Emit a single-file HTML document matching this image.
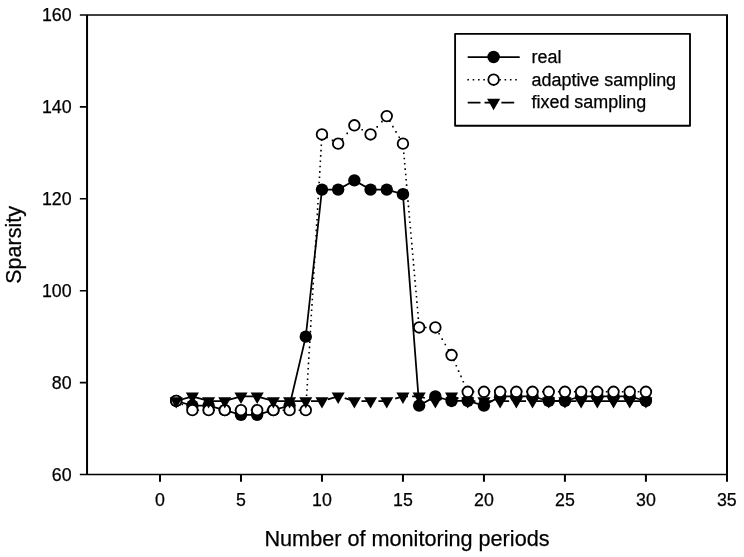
<!DOCTYPE html>
<html><head><meta charset="utf-8"><title>Sparsity</title>
<style>html,body{margin:0;padding:0;background:#fff}svg{display:block}text{font-family:"Liberation Sans",Arial,sans-serif;fill:#000;stroke:#000;stroke-width:0.25px}</style></head><body>
<svg width="744" height="557" viewBox="0 0 744 557">
<rect width="744" height="557" fill="#fff"/>
<g stroke="#000" stroke-width="1.75" fill="none">
<polyline points="176.20,400.98 192.39,405.57 208.59,405.57 224.79,410.17 240.99,414.76 257.18,414.76 273.38,410.17 289.58,405.57 305.77,336.65 321.97,189.61 338.17,189.61 354.36,180.42 370.56,189.61 386.76,189.61 402.95,194.21 419.15,405.57 435.35,396.38 451.55,400.98 467.74,400.98 483.94,405.57 500.14,396.38 516.33,396.38 532.53,396.38 548.73,400.98 564.92,400.98 581.12,396.38 597.32,396.38 613.52,396.38 629.71,396.38 645.91,400.98"/>
</g>
<g fill="#000">
<circle cx="176.20" cy="400.98" r="6.2"/>
<circle cx="192.39" cy="405.57" r="6.2"/>
<circle cx="208.59" cy="405.57" r="6.2"/>
<circle cx="224.79" cy="410.17" r="6.2"/>
<circle cx="240.99" cy="414.76" r="6.2"/>
<circle cx="257.18" cy="414.76" r="6.2"/>
<circle cx="273.38" cy="410.17" r="6.2"/>
<circle cx="289.58" cy="405.57" r="6.2"/>
<circle cx="305.77" cy="336.65" r="6.2"/>
<circle cx="321.97" cy="189.61" r="6.2"/>
<circle cx="338.17" cy="189.61" r="6.2"/>
<circle cx="354.36" cy="180.42" r="6.2"/>
<circle cx="370.56" cy="189.61" r="6.2"/>
<circle cx="386.76" cy="189.61" r="6.2"/>
<circle cx="402.95" cy="194.21" r="6.2"/>
<circle cx="419.15" cy="405.57" r="6.2"/>
<circle cx="435.35" cy="396.38" r="6.2"/>
<circle cx="451.55" cy="400.98" r="6.2"/>
<circle cx="467.74" cy="400.98" r="6.2"/>
<circle cx="483.94" cy="405.57" r="6.2"/>
<circle cx="500.14" cy="396.38" r="6.2"/>
<circle cx="516.33" cy="396.38" r="6.2"/>
<circle cx="532.53" cy="396.38" r="6.2"/>
<circle cx="548.73" cy="400.98" r="6.2"/>
<circle cx="564.92" cy="400.98" r="6.2"/>
<circle cx="581.12" cy="396.38" r="6.2"/>
<circle cx="597.32" cy="396.38" r="6.2"/>
<circle cx="613.52" cy="396.38" r="6.2"/>
<circle cx="629.71" cy="396.38" r="6.2"/>
<circle cx="645.91" cy="400.98" r="6.2"/>
</g>
<path d="M176.2,400.6h1.6v1.6h-1.6zM181.5,403.7h1.6v1.6h-1.6zM186.8,406.7h1.6v1.6h-1.6zM192.2,409.4h1.6v1.6h-1.6zM197.5,409.4h1.6v1.6h-1.6zM202.8,409.4h1.6v1.6h-1.6zM208.1,409.4h1.6v1.6h-1.6zM213.4,409.4h1.6v1.6h-1.6zM218.8,409.4h1.6v1.6h-1.6zM224.1,409.4h1.6v1.6h-1.6zM229.4,409.4h1.6v1.6h-1.6zM234.7,409.4h1.6v1.6h-1.6zM240.0,409.4h1.6v1.6h-1.6zM245.4,409.4h1.6v1.6h-1.6zM250.7,409.4h1.6v1.6h-1.6zM256.0,409.4h1.6v1.6h-1.6zM261.3,409.4h1.6v1.6h-1.6zM266.6,409.4h1.6v1.6h-1.6zM272.0,409.4h1.6v1.6h-1.6zM277.3,409.4h1.6v1.6h-1.6zM282.6,409.4h1.6v1.6h-1.6zM287.9,409.4h1.6v1.6h-1.6zM293.2,409.4h1.6v1.6h-1.6zM298.6,409.4h1.6v1.6h-1.6zM303.9,409.4h1.6v1.6h-1.6zM305.2,405.1h1.6v1.6h-1.6zM305.5,399.8h1.6v1.6h-1.6zM305.8,394.5h1.6v1.6h-1.6zM306.2,389.2h1.6v1.6h-1.6zM306.5,383.9h1.6v1.6h-1.6zM306.8,378.5h1.6v1.6h-1.6zM307.1,373.2h1.6v1.6h-1.6zM307.4,367.9h1.6v1.6h-1.6zM307.7,362.6h1.6v1.6h-1.6zM308.0,357.3h1.6v1.6h-1.6zM308.3,351.9h1.6v1.6h-1.6zM308.7,346.6h1.6v1.6h-1.6zM309.0,341.3h1.6v1.6h-1.6zM309.3,336.0h1.6v1.6h-1.6zM309.6,330.7h1.6v1.6h-1.6zM309.9,325.3h1.6v1.6h-1.6zM310.2,320.0h1.6v1.6h-1.6zM310.5,314.7h1.6v1.6h-1.6zM310.8,309.4h1.6v1.6h-1.6zM311.2,304.1h1.6v1.6h-1.6zM311.5,298.7h1.6v1.6h-1.6zM311.8,293.4h1.6v1.6h-1.6zM312.1,288.1h1.6v1.6h-1.6zM312.4,282.8h1.6v1.6h-1.6zM312.7,277.5h1.6v1.6h-1.6zM313.0,272.1h1.6v1.6h-1.6zM313.3,266.8h1.6v1.6h-1.6zM313.7,261.5h1.6v1.6h-1.6zM314.0,256.2h1.6v1.6h-1.6zM314.3,250.9h1.6v1.6h-1.6zM314.6,245.5h1.6v1.6h-1.6zM314.9,240.2h1.6v1.6h-1.6zM315.2,234.9h1.6v1.6h-1.6zM315.5,229.6h1.6v1.6h-1.6zM315.8,224.3h1.6v1.6h-1.6zM316.2,218.9h1.6v1.6h-1.6zM316.5,213.6h1.6v1.6h-1.6zM316.8,208.3h1.6v1.6h-1.6zM317.1,203.0h1.6v1.6h-1.6zM317.4,197.7h1.6v1.6h-1.6zM317.7,192.3h1.6v1.6h-1.6zM318.0,187.0h1.6v1.6h-1.6zM318.3,181.7h1.6v1.6h-1.6zM318.7,176.4h1.6v1.6h-1.6zM319.0,171.1h1.6v1.6h-1.6zM319.3,165.7h1.6v1.6h-1.6zM319.6,160.4h1.6v1.6h-1.6zM319.9,155.1h1.6v1.6h-1.6zM320.2,149.8h1.6v1.6h-1.6zM320.5,144.5h1.6v1.6h-1.6zM320.8,139.1h1.6v1.6h-1.6zM321.2,133.8h1.6v1.6h-1.6zM326.3,136.6h1.6v1.6h-1.6zM331.7,139.6h1.6v1.6h-1.6zM337.0,142.6h1.6v1.6h-1.6zM341.7,137.9h1.6v1.6h-1.6zM346.4,132.6h1.6v1.6h-1.6zM351.1,127.3h1.6v1.6h-1.6zM356.1,125.9h1.6v1.6h-1.6zM361.4,128.9h1.6v1.6h-1.6zM366.7,131.9h1.6v1.6h-1.6zM371.8,131.4h1.6v1.6h-1.6zM376.4,126.1h1.6v1.6h-1.6zM381.1,120.8h1.6v1.6h-1.6zM385.8,115.4h1.6v1.6h-1.6zM389.0,120.5h1.6v1.6h-1.6zM392.1,125.8h1.6v1.6h-1.6zM395.2,131.1h1.6v1.6h-1.6zM398.4,136.4h1.6v1.6h-1.6zM401.5,141.7h1.6v1.6h-1.6zM402.5,147.1h1.6v1.6h-1.6zM403.0,152.4h1.6v1.6h-1.6zM403.5,157.7h1.6v1.6h-1.6zM403.9,163.0h1.6v1.6h-1.6zM404.4,168.3h1.6v1.6h-1.6zM404.9,173.7h1.6v1.6h-1.6zM405.3,179.0h1.6v1.6h-1.6zM405.8,184.3h1.6v1.6h-1.6zM406.3,189.6h1.6v1.6h-1.6zM406.7,194.9h1.6v1.6h-1.6zM407.2,200.3h1.6v1.6h-1.6zM407.7,205.6h1.6v1.6h-1.6zM408.2,210.9h1.6v1.6h-1.6zM408.6,216.2h1.6v1.6h-1.6zM409.1,221.5h1.6v1.6h-1.6zM409.6,226.9h1.6v1.6h-1.6zM410.0,232.2h1.6v1.6h-1.6zM410.5,237.5h1.6v1.6h-1.6zM411.0,242.8h1.6v1.6h-1.6zM411.4,248.1h1.6v1.6h-1.6zM411.9,253.5h1.6v1.6h-1.6zM412.4,258.8h1.6v1.6h-1.6zM412.8,264.1h1.6v1.6h-1.6zM413.3,269.4h1.6v1.6h-1.6zM413.8,274.7h1.6v1.6h-1.6zM414.2,280.1h1.6v1.6h-1.6zM414.7,285.4h1.6v1.6h-1.6zM415.2,290.7h1.6v1.6h-1.6zM415.7,296.0h1.6v1.6h-1.6zM416.1,301.3h1.6v1.6h-1.6zM416.6,306.7h1.6v1.6h-1.6zM417.1,312.0h1.6v1.6h-1.6zM417.5,317.3h1.6v1.6h-1.6zM418.0,322.6h1.6v1.6h-1.6zM419.6,326.7h1.6v1.6h-1.6zM425.0,326.7h1.6v1.6h-1.6zM430.3,326.7h1.6v1.6h-1.6zM435.2,327.7h1.6v1.6h-1.6zM438.3,333.0h1.6v1.6h-1.6zM441.4,338.3h1.6v1.6h-1.6zM444.5,343.7h1.6v1.6h-1.6zM447.7,349.0h1.6v1.6h-1.6zM450.8,354.3h1.6v1.6h-1.6zM453.1,359.6h1.6v1.6h-1.6zM455.5,364.9h1.6v1.6h-1.6zM457.8,370.3h1.6v1.6h-1.6zM460.2,375.6h1.6v1.6h-1.6zM462.5,380.9h1.6v1.6h-1.6zM464.8,386.2h1.6v1.6h-1.6zM467.5,391.0h1.6v1.6h-1.6zM472.8,391.0h1.6v1.6h-1.6zM478.1,391.0h1.6v1.6h-1.6zM483.5,391.0h1.6v1.6h-1.6zM488.8,391.0h1.6v1.6h-1.6zM494.1,391.0h1.6v1.6h-1.6zM499.4,391.0h1.6v1.6h-1.6zM504.7,391.0h1.6v1.6h-1.6zM510.1,391.0h1.6v1.6h-1.6zM515.4,391.0h1.6v1.6h-1.6zM520.7,391.0h1.6v1.6h-1.6zM526.0,391.0h1.6v1.6h-1.6zM531.3,391.0h1.6v1.6h-1.6zM536.7,391.0h1.6v1.6h-1.6zM542.0,391.0h1.6v1.6h-1.6zM547.3,391.0h1.6v1.6h-1.6zM552.6,391.0h1.6v1.6h-1.6zM557.9,391.0h1.6v1.6h-1.6zM563.3,391.0h1.6v1.6h-1.6zM568.6,391.0h1.6v1.6h-1.6zM573.9,391.0h1.6v1.6h-1.6zM579.2,391.0h1.6v1.6h-1.6zM584.5,391.0h1.6v1.6h-1.6zM589.9,391.0h1.6v1.6h-1.6zM595.2,391.0h1.6v1.6h-1.6zM600.5,391.0h1.6v1.6h-1.6zM605.8,391.0h1.6v1.6h-1.6zM611.1,391.0h1.6v1.6h-1.6zM616.5,391.0h1.6v1.6h-1.6zM621.8,391.0h1.6v1.6h-1.6zM627.1,391.0h1.6v1.6h-1.6zM632.4,391.0h1.6v1.6h-1.6zM637.7,391.0h1.6v1.6h-1.6zM643.1,391.0h1.6v1.6h-1.6z" fill="#000"/>
<g fill="#fff" stroke="#000" stroke-width="1.8">
<circle cx="176.20" cy="400.98" r="5.3"/>
<circle cx="192.39" cy="410.17" r="5.3"/>
<circle cx="208.59" cy="410.17" r="5.3"/>
<circle cx="224.79" cy="410.17" r="5.3"/>
<circle cx="240.99" cy="410.17" r="5.3"/>
<circle cx="257.18" cy="410.17" r="5.3"/>
<circle cx="273.38" cy="410.17" r="5.3"/>
<circle cx="289.58" cy="410.17" r="5.3"/>
<circle cx="305.77" cy="410.17" r="5.3"/>
<circle cx="321.97" cy="134.47" r="5.3"/>
<circle cx="338.17" cy="143.66" r="5.3"/>
<circle cx="354.36" cy="125.28" r="5.3"/>
<circle cx="370.56" cy="134.47" r="5.3"/>
<circle cx="386.76" cy="116.09" r="5.3"/>
<circle cx="402.95" cy="143.66" r="5.3"/>
<circle cx="419.15" cy="327.46" r="5.3"/>
<circle cx="435.35" cy="327.46" r="5.3"/>
<circle cx="451.55" cy="355.03" r="5.3"/>
<circle cx="467.74" cy="391.79" r="5.3"/>
<circle cx="483.94" cy="391.79" r="5.3"/>
<circle cx="500.14" cy="391.79" r="5.3"/>
<circle cx="516.33" cy="391.79" r="5.3"/>
<circle cx="532.53" cy="391.79" r="5.3"/>
<circle cx="548.73" cy="391.79" r="5.3"/>
<circle cx="564.92" cy="391.79" r="5.3"/>
<circle cx="581.12" cy="391.79" r="5.3"/>
<circle cx="597.32" cy="391.79" r="5.3"/>
<circle cx="613.52" cy="391.79" r="5.3"/>
<circle cx="629.71" cy="391.79" r="5.3"/>
<circle cx="645.91" cy="391.79" r="5.3"/>
</g>
<path d="M176.2,401.0L189.0,397.3M193.0,396.6L205.8,400.2M209.9,401.0L222.7,401.0M226.7,400.4L239.5,396.8M243.6,396.4L256.4,396.4M260.4,397.3L273.2,400.9M277.3,401.0L289.6,401.0L290.1,401.0M294.1,401.0L305.8,401.0L306.9,401.0M311.0,401.0L322.0,401.0L323.8,400.5M327.8,399.3L338.2,396.4L340.6,397.1M344.7,398.2L354.4,401.0L357.5,401.0M361.5,401.0L370.6,401.0L374.3,401.0M378.4,401.0L386.8,401.0L391.2,399.7M395.2,398.6L403.0,396.4L408.0,396.4M412.1,396.4L419.2,396.4L424.9,398.0M428.9,399.2L435.3,401.0L441.7,399.2M445.8,398.0L451.5,396.4L458.6,398.4M462.6,399.5L467.7,401.0L475.4,401.0M479.5,401.0L483.9,401.0L492.3,401.0M496.3,401.0L500.1,401.0L509.1,401.0M513.2,401.0L516.3,401.0L526.0,401.0M530.0,401.0L532.5,401.0L542.8,401.0M546.9,401.0L548.7,401.0L559.7,401.0M563.7,401.0L564.9,401.0L576.5,401.0M580.6,401.0L581.1,401.0L593.4,401.0M597.4,401.0L610.2,401.0M614.3,401.0L627.1,401.0M631.1,401.0L643.9,401.0" fill="none" stroke="#000" stroke-width="1.75"/>
<g fill="#000">
<polygon points="169.65,397.21 182.75,397.21 176.20,408.51"/>
<polygon points="185.84,392.62 198.94,392.62 192.39,403.92"/>
<polygon points="202.04,397.21 215.14,397.21 208.59,408.51"/>
<polygon points="218.24,397.21 231.34,397.21 224.79,408.51"/>
<polygon points="234.44,392.62 247.54,392.62 240.99,403.92"/>
<polygon points="250.63,392.62 263.73,392.62 257.18,403.92"/>
<polygon points="266.83,397.21 279.93,397.21 273.38,408.51"/>
<polygon points="283.03,397.21 296.13,397.21 289.58,408.51"/>
<polygon points="299.22,397.21 312.32,397.21 305.77,408.51"/>
<polygon points="315.42,397.21 328.52,397.21 321.97,408.51"/>
<polygon points="331.62,392.62 344.72,392.62 338.17,403.92"/>
<polygon points="347.81,397.21 360.91,397.21 354.36,408.51"/>
<polygon points="364.01,397.21 377.11,397.21 370.56,408.51"/>
<polygon points="380.21,397.21 393.31,397.21 386.76,408.51"/>
<polygon points="396.40,392.62 409.50,392.62 402.95,403.92"/>
<polygon points="412.60,392.62 425.70,392.62 419.15,403.92"/>
<polygon points="428.80,397.21 441.90,397.21 435.35,408.51"/>
<polygon points="445.00,392.62 458.10,392.62 451.55,403.92"/>
<polygon points="461.19,397.21 474.29,397.21 467.74,408.51"/>
<polygon points="477.39,397.21 490.49,397.21 483.94,408.51"/>
<polygon points="493.59,397.21 506.69,397.21 500.14,408.51"/>
<polygon points="509.78,397.21 522.88,397.21 516.33,408.51"/>
<polygon points="525.98,397.21 539.08,397.21 532.53,408.51"/>
<polygon points="542.18,397.21 555.28,397.21 548.73,408.51"/>
<polygon points="558.38,397.21 571.47,397.21 564.92,408.51"/>
<polygon points="574.57,397.21 587.67,397.21 581.12,408.51"/>
<polygon points="590.77,397.21 603.87,397.21 597.32,408.51"/>
<polygon points="606.97,397.21 620.07,397.21 613.52,408.51"/>
<polygon points="623.16,397.21 636.26,397.21 629.71,408.51"/>
<polygon points="639.36,397.21 652.46,397.21 645.91,408.51"/>
</g>
<g stroke="#000" fill="none">
<path d="M79.85,15.0H728.0" stroke-width="1.5"/>
<path d="M79.85,474.5H728.0" stroke-width="1.6"/>
<path d="M87.05,15.0V474.5M727.0,15.0V481.80" stroke-width="2"/>
<path d="M79.85,382.60H87.05M79.85,290.70H87.05M79.85,198.80H87.05M79.85,106.90H87.05" stroke-width="1.6"/>
<path d="M160.00,474.5V481.80M240.99,474.5V481.80M321.97,474.5V481.80M402.95,474.5V481.80M483.94,474.5V481.80M564.92,474.5V481.80M645.91,474.5V481.80" stroke-width="2"/>
</g>
<g font-size="17.8px">
<text x="71.6" y="480.55" text-anchor="end">60</text>
<text x="71.6" y="388.65" text-anchor="end">80</text>
<text x="71.6" y="296.75" text-anchor="end">100</text>
<text x="71.6" y="204.85" text-anchor="end">120</text>
<text x="71.6" y="112.95" text-anchor="end">140</text>
<text x="71.6" y="21.05" text-anchor="end">160</text>
<text x="160.00" y="506.2" text-anchor="middle">0</text>
<text x="240.99" y="506.2" text-anchor="middle">5</text>
<text x="321.97" y="506.2" text-anchor="middle">10</text>
<text x="402.95" y="506.2" text-anchor="middle">15</text>
<text x="483.94" y="506.2" text-anchor="middle">20</text>
<text x="564.92" y="506.2" text-anchor="middle">25</text>
<text x="645.91" y="506.2" text-anchor="middle">30</text>
<text x="726.89" y="506.2" text-anchor="middle">35</text>
</g>
<text x="407" y="546.05" font-size="21.65px" text-anchor="middle">Number of monitoring periods</text>
<text transform="translate(21.3 244.9) rotate(-90)" font-size="21.5px" text-anchor="middle">Sparsity</text>
<rect x="455.1" y="33.85" width="234.9" height="91.9" fill="#fff" stroke="#000" stroke-width="1.85" stroke-linejoin="round"/>
<line x1="467.7" y1="57.0" x2="519.7" y2="57.0" stroke="#000" stroke-width="1.75"/>
<circle cx="493.6" cy="57.0" r="6.2" fill="#000"/>
<line x1="467.35" y1="79.7" x2="517.5" y2="79.7" stroke="#000" stroke-width="1.6" stroke-dasharray="1.6 3.72"/>
<circle cx="493.6" cy="79.7" r="5.3" fill="#fff" stroke="#000" stroke-width="1.8"/>
<line x1="467.7" y1="102.6" x2="518" y2="102.6" stroke="#000" stroke-width="1.75" stroke-dasharray="12.8 4.05"/>
<g fill="#000"><polygon points="487.05,98.83 500.15,98.83 493.60,110.13"/></g>
<g font-size="17.95px">
<text x="531.5" y="62.6">real</text>
<text x="531.5" y="85.5">adaptive sampling</text>
<text x="531.5" y="108.4">fixed sampling</text>
</g>
</svg></body></html>
